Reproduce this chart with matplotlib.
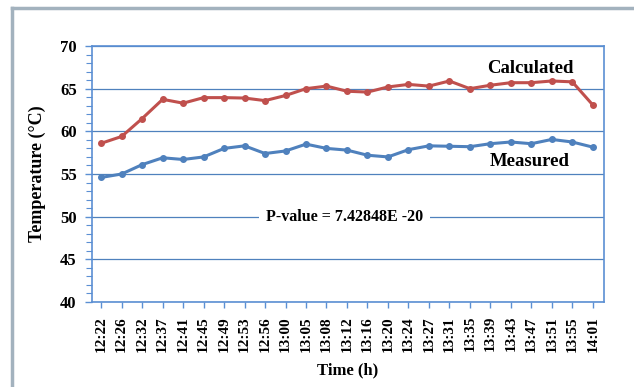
import matplotlib.pyplot as plt
import matplotlib.lines as mlines
from matplotlib.ticker import MultipleLocator

plt.rcParams['font.family'] = ['Liberation Serif', 'DejaVu Serif']

# Data
times = ['12:22', '12:26', '12:32', '12:37', '12:41', '12:45', '12:49', '12:53',
         '12:56', '13:00', '13:05', '13:08', '13:12', '13:16', '13:20', '13:24',
         '13:27', '13:31', '13:35', '13:39', '13:43', '13:47', '13:51', '13:55',
         '14:01']
calculated = [58.6, 59.4, 61.5, 63.75, 63.3, 63.95, 63.95, 63.9, 63.6, 64.2,
              65.0, 65.3, 64.7, 64.6, 65.2, 65.5, 65.3, 65.9, 65.0, 65.4,
              65.7, 65.7, 65.9, 65.8, 63.1]
measured = [54.6, 55.0, 56.1, 56.9, 56.7, 57.0, 58.0, 58.3, 57.4, 57.7,
            58.5, 58.0, 57.8, 57.2, 57.0, 57.85, 58.3, 58.25, 58.2, 58.55,
            58.75, 58.55, 59.05, 58.75, 58.15]

# Colors
red = '#C0504D'
blue = '#4F81BD'
axis_blue = '#5B8FD3'
frame_gray = '#A3B2BE'

fig = plt.figure(figsize=(6.34, 3.87), dpi=100)
ax = fig.add_axes([92 / 634, 1 - 302 / 387, 512 / 634, 256 / 387])

x = list(range(len(times)))
ax.plot(x, calculated, color=red, linewidth=2.2, marker='o', markersize=4, zorder=3)
ax.plot(x, measured, color=blue, linewidth=2.2, marker='o', markersize=4, zorder=3)

ax.set_ylim(40, 70)
ax.set_xlim(-0.45, len(times) - 0.45)
ax.yaxis.set_major_locator(MultipleLocator(5))
ax.yaxis.set_minor_locator(MultipleLocator(1))
ax.grid(axis='y', which='major', color=blue, linewidth=0.9)
ax.set_axisbelow(True)

ax.set_xticks(x)
ax.set_xticklabels(times, rotation=90, fontsize=11, fontweight='bold')
for lab in ax.get_yticklabels():
    lab.set_fontweight('bold')
ax.tick_params(axis='y', labelsize=12, color=axis_blue, length=5, width=1, pad=6)
ax.tick_params(axis='y', which='minor', color=axis_blue, length=4, width=0.8)
ax.tick_params(axis='x', color=axis_blue, length=4, width=1, pad=6)

for s in ax.spines.values():
    s.set_color(axis_blue)
    s.set_linewidth(1.2)

ax.set_ylabel('Temperature (°C)', fontsize=13, fontweight='bold', labelpad=10)
ax.set_xlabel('Time (h)', fontsize=12, fontweight='bold', labelpad=8)

# Series labels
ax.text(0.857, 67.4, 'Calculated', transform=ax.get_yaxis_transform(),
        ha='center', va='center', fontsize=13.5, fontweight='bold')
ax.text(0.854, 56.5, 'Measured', transform=ax.get_yaxis_transform(),
        ha='center', va='center', fontsize=13.5, fontweight='bold')
ax.text(0.494, 50, 'P-value = 7.42848E -20', transform=ax.get_yaxis_transform(),
        ha='center', va='center', fontsize=11.5, fontweight='bold',
        bbox=dict(facecolor='white', edgecolor='none', pad=5), zorder=4)

# Gray frame (top and left)
fig.add_artist(mlines.Line2D([12 / 634, 12 / 634], [0, 1 - 8 / 387],
                             color=frame_gray, linewidth=2.5))
fig.add_artist(mlines.Line2D([12 / 634, 1], [1 - 8 / 387, 1 - 8 / 387],
                             color=frame_gray, linewidth=2.5))

fig.savefig('out.png', dpi=100, facecolor='white')
